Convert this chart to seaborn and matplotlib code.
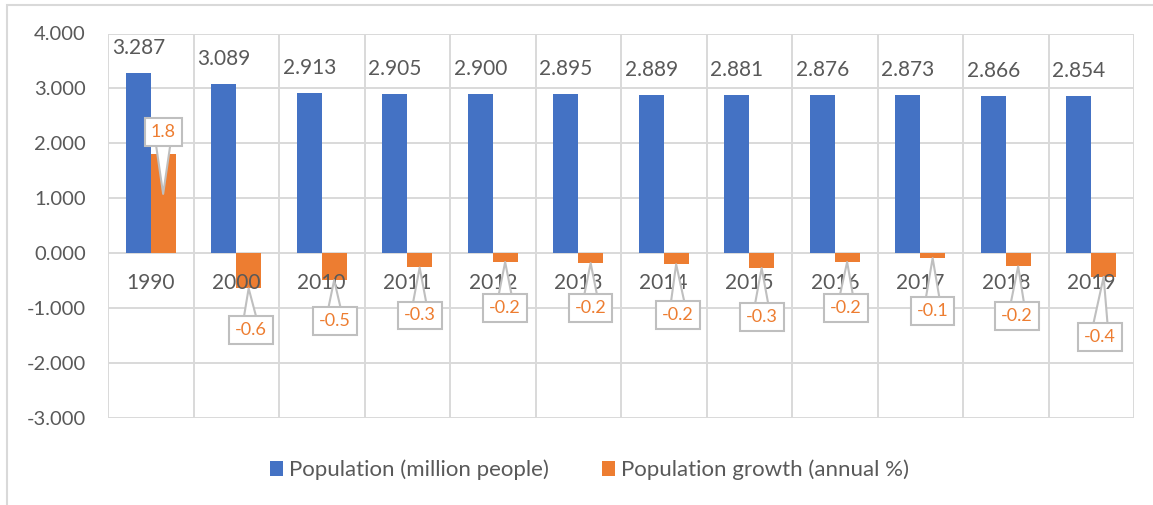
import numpy as np
import pandas as pd
import matplotlib
matplotlib.use("Agg")
import matplotlib.pyplot as plt
from matplotlib.patches import Patch, Rectangle
import seaborn as sns

# ---- data ----
years = ["1990", "2000", "2010", "2011", "2012", "2013", "2014", "2015",
         "2016", "2017", "2018", "2019"]
population = [3.287, 3.089, 2.913, 2.905, 2.900, 2.895, 2.889, 2.881,
              2.876, 2.873, 2.866, 2.854]
growth = [1.8, -0.64, -0.49, -0.26, -0.16, -0.18, -0.20, -0.27,
          -0.16, -0.09, -0.24, -0.43]
series_names = ["Population (million people)", "Population growth (annual %)"]
y_ticks = [-3, -2, -1, 0, 1, 2, 3, 4]

# callout box offsets (pixels) relative to pointer tip -- layout only
callout_dx = [0, 2, 0.5, 0, 0, 0, 2, 0, -1, 0, -1, -4]
callout_dy = [62, -42, -41, -48, -46, -45, -51, -49, -46, -53, -50, -60]

BLUE = "#4472C4"
ORANGE = "#ED7D31"
GRID = "#D9D9D9"
TXT = "#595959"

sns.set_theme(style="white")
plt.rcParams["font.family"] = ["Lato", "DejaVu Sans"]

df = pd.DataFrame({
    "year": years * 2,
    "value": population + growth,
    "series": [series_names[0]] * len(years) + [series_names[1]] * len(years),
})

fig = plt.figure(figsize=(11.53, 5.05), dpi=100)
ax = fig.add_axes([108 / 1153, 1 - 418 / 505, (1134 - 108) / 1153, (418 - 33.5) / 505])

sns.barplot(data=df, x="year", y="value", hue="series", order=years,
            hue_order=series_names, palette={series_names[0]: BLUE, series_names[1]: ORANGE},
            width=0.58, dodge=True, saturation=1, linewidth=0, ax=ax, legend=False,
            errorbar=None)

ax.set_xlim(-0.5, len(years) - 0.5)
ax.set_ylim(min(y_ticks), max(y_ticks))
ax.set_yticks(y_ticks)
ax.set_yticklabels([f"{t:.3f}" for t in y_ticks], fontsize=14.5, color=TXT)
ax.set_xticks([])
ax.set_xticks(np.arange(-0.5, len(years), 1), minor=True)
ax.tick_params(axis="y", length=0, pad=16)
ax.tick_params(axis="x", which="both", length=0, labelbottom=False)
ax.set_xlabel("")
ax.set_ylabel("")
for s in ax.spines.values():
    s.set_visible(False)
ax.set_axisbelow(True)
ax.grid(axis="y", which="major", color=GRID, lw=1.4)
ax.grid(axis="x", which="minor", color=GRID, lw=1.4)

# bar positions from the containers
blue_bars = ax.containers[0]
orange_bars = ax.containers[1]

# population labels
for bar, v in zip(blue_bars, population):
    xc = bar.get_x() + bar.get_width() / 2
    ax.annotate(f"{v:.3f}", xy=(xc, v), xytext=(0, 25), textcoords="offset pixels",
                ha="center", va="center", fontsize=15, color=TXT, zorder=5)

# category labels next to the zero axis
for i, yr in enumerate(years):
    ax.annotate(yr, xy=(i, 0), xytext=(0, -30), textcoords="offset pixels",
                ha="center", va="center", fontsize=15, color=TXT, zorder=4)

# growth callouts
for bar, v, dx, dy in zip(orange_bars, growth, callout_dx, callout_dy):
    xc = bar.get_x() + bar.get_width() / 2
    tip = v * 0.6 if v > 0 else v
    ax.annotate(f"{v:.1f}", xy=(xc, tip), xytext=(dx, dy), textcoords="offset pixels",
                ha="center", va="center", fontsize=13, color=ORANGE, zorder=10,
                bbox=dict(boxstyle="square,pad=0.33", fc="white", ec="#BFBFBF", lw=1.5),
                arrowprops=dict(arrowstyle="wedge,tail_width=1.0,shrink_factor=0.5",
                                fc="white", ec="#BFBFBF", lw=1.5,
                                patchA=None, shrinkA=0, shrinkB=0))

# legend
handles = [Patch(facecolor=BLUE, edgecolor="none"), Patch(facecolor=ORANGE, edgecolor="none")]
fig.legend(handles, series_names, loc="center", bbox_to_anchor=(589.5 / 1153, 1 - 470 / 505),
           ncol=2, frameon=False, fontsize=16, labelcolor=TXT, handlelength=0.6,
           handleheight=0.63, handletextpad=0.27, columnspacing=2.4)

# chart outer border (partly cropped in reference)
fig.patches.append(Rectangle((7 / 1153, -0.2), 2.0, 1.2 - 5 / 505, transform=fig.transFigure,
                             fill=False, ec=GRID, lw=1.5))

fig.savefig("out.png", dpi=100)
